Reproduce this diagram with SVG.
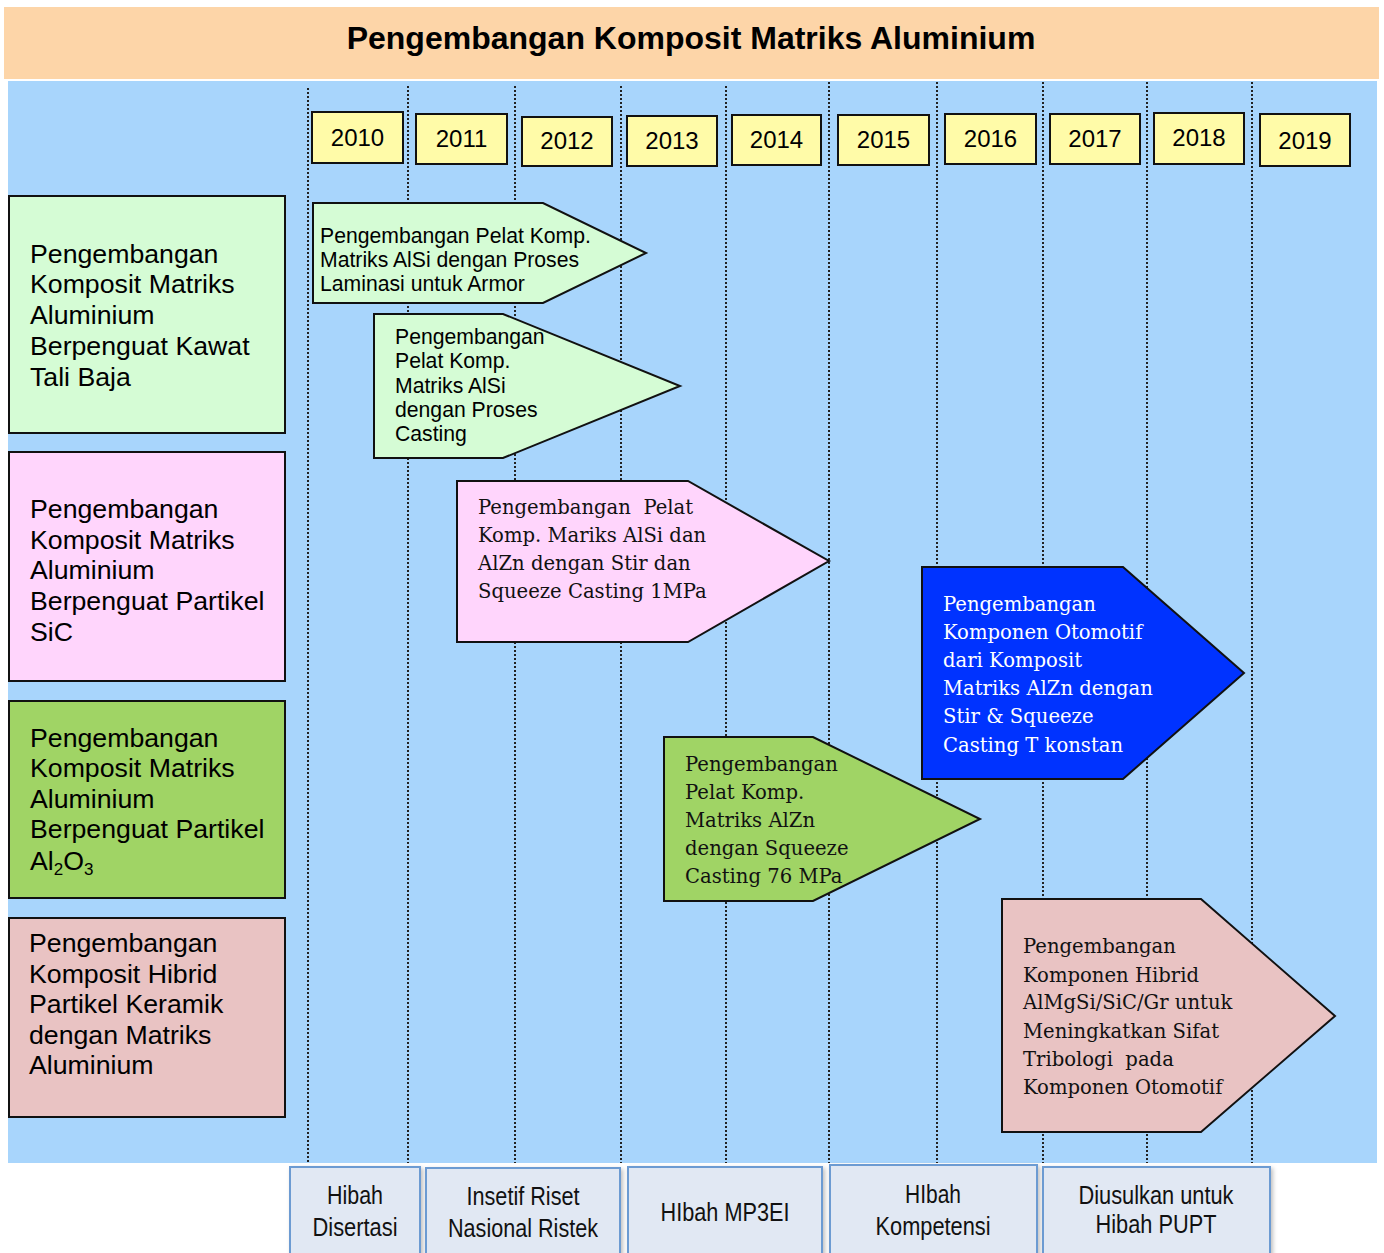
<svg xmlns="http://www.w3.org/2000/svg" width="1384" height="1253" viewBox="0 0 1384 1253">
<style>
.sans{font-family:"Liberation Sans",Arial,sans-serif;fill:#000}
.serif{font-family:"DejaVu Serif","Liberation Serif",serif;font-size:19.6px;fill:#111}
.cat{font-size:26.7px}
.act{font-size:21.2px}
.yr rect{fill:#FFFBA8;stroke:#111;stroke-width:2}
.yr text{font-family:"Liberation Sans",Arial,sans-serif;font-size:24px;text-anchor:middle;fill:#000}
.grid line{stroke:#222;stroke-width:2;stroke-dasharray:2 2}
.box{stroke:#111;stroke-width:2}
.fund rect{fill:#E1E8F3;stroke:#6C9BD2;stroke-width:2}
.fund text{font-family:"Liberation Sans Narrow","Liberation Sans",Arial,sans-serif;font-size:26px;text-anchor:middle;fill:#111}
</style>
<defs>
<filter id="sh" x="-10%" y="-10%" width="130%" height="130%"><feDropShadow dx="2" dy="2" stdDeviation="2" flood-color="#000" flood-opacity="0.25"/></filter>
</defs>
<rect width="1384" height="1253" fill="#fff"/>
<g id="title">
<rect x="4" y="7" width="1375" height="72" fill="#FDD5A8"/>
<text x="691" y="49" class="sans" font-size="32px" font-weight="bold" text-anchor="middle">Pengembangan Komposit Matriks Aluminium</text>
</g>
<rect id="panel" x="8" y="81" width="1369" height="1082" fill="#A8D5FC"/>
<g id="connectors" class="grid">
<line x1="308" y1="88" x2="308" y2="1163"/>
<line x1="408" y1="86" x2="408" y2="1163"/>
<line x1="515" y1="86" x2="515" y2="1163"/>
<line x1="621" y1="86" x2="621" y2="1163"/>
<line x1="726" y1="86" x2="726" y2="1163"/>
<line x1="829" y1="82" x2="829" y2="1163"/>
<line x1="937" y1="82" x2="937" y2="1163"/>
<line x1="1043" y1="82" x2="1043" y2="1163"/>
<line x1="1147" y1="82" x2="1147" y2="1163"/>
<line x1="1252" y1="82" x2="1252" y2="1163"/>
</g>
<g id="years" class="yr">
<g id="y2010"><rect x="312" y="112" width="91" height="51"/><text x="357.5" y="146">2010</text></g>
<g id="y2011"><rect x="416" y="114" width="91" height="50"/><text x="461.5" y="147">2011</text></g>
<g id="y2012"><rect x="522" y="117" width="90" height="49"/><text x="567" y="149">2012</text></g>
<g id="y2013"><rect x="627" y="116" width="90" height="50"/><text x="672" y="149">2013</text></g>
<g id="y2014"><rect x="732" y="115" width="89" height="50"/><text x="776.5" y="148">2014</text></g>
<g id="y2015"><rect x="838" y="115" width="91" height="50"/><text x="883.5" y="148">2015</text></g>
<g id="y2016"><rect x="945" y="114" width="91" height="50"/><text x="990.5" y="147">2016</text></g>
<g id="y2017"><rect x="1050" y="114" width="90" height="50"/><text x="1095" y="147">2017</text></g>
<g id="y2018"><rect x="1154" y="113" width="90" height="51"/><text x="1199" y="146">2018</text></g>
<g id="y2019"><rect x="1260" y="114" width="90" height="52"/><text x="1305" y="149">2019</text></g>
</g>
<g id="cat1">
<rect class="box" x="9" y="196" width="276" height="237" fill="#D5FCD5"/>
<text class="sans cat" x="30"><tspan x="30" y="263">Pengembangan</tspan><tspan x="30" y="293">Komposit Matriks</tspan><tspan x="30" y="324">Aluminium</tspan><tspan x="30" y="355">Berpenguat Kawat</tspan><tspan x="30" y="386">Tali Baja</tspan></text>
</g>
<g id="cat2">
<rect class="box" x="9" y="452" width="276" height="229" fill="#FFD5FC"/>
<text class="sans cat" x="30"><tspan x="30" y="518">Pengembangan</tspan><tspan x="30" y="549">Komposit Matriks</tspan><tspan x="30" y="579">Aluminium</tspan><tspan x="30" y="610">Berpenguat Partikel</tspan><tspan x="30" y="641">SiC</tspan></text>
</g>
<g id="cat3">
<rect class="box" x="9" y="701" width="276" height="197" fill="#A0D465"/>
<text class="sans cat" x="30"><tspan x="30" y="747">Pengembangan</tspan><tspan x="30" y="777">Komposit Matriks</tspan><tspan x="30" y="808">Aluminium</tspan><tspan x="30" y="838">Berpenguat Partikel</tspan><tspan x="30" y="870">Al</tspan><tspan font-size="17px" dy="5">2</tspan><tspan dy="-5">O</tspan><tspan font-size="17px" dy="5">3</tspan></text>
</g>
<g id="cat4">
<rect class="box" x="9" y="918" width="276" height="199" fill="#E9C3C3"/>
<text class="sans cat" x="29"><tspan x="29" y="952">Pengembangan</tspan><tspan x="29" y="983">Komposit Hibrid</tspan><tspan x="29" y="1013">Partikel Keramik</tspan><tspan x="29" y="1044">dengan Matriks</tspan><tspan x="29" y="1074">Aluminium</tspan></text>
</g>
<g id="act1">
<polygon class="box" points="313,203 543,203 646,253 543,303 313,303" fill="#D5FCD5"/>
<text class="sans act"><tspan x="320" y="243">Pengembangan Pelat Komp.</tspan><tspan x="320" y="267">Matriks AlSi dengan Proses</tspan><tspan x="320" y="291">Laminasi untuk Armor</tspan></text>
</g>
<g id="act2">
<polygon class="box" points="374,314 503,314 680,386 503,458 374,458" fill="#D5FCD5"/>
<text class="sans act"><tspan x="395" y="344">Pengembangan</tspan><tspan x="395" y="368">Pelat Komp.</tspan><tspan x="395" y="393">Matriks AlSi</tspan><tspan x="395" y="417">dengan Proses</tspan><tspan x="395" y="441">Casting</tspan></text>
</g>
<g id="act3">
<polygon class="box" points="457,481 688,481 829,561 688,642 457,642" fill="#FFD5FC"/>
<text class="serif"><tspan x="478" y="514" xml:space="preserve">Pengembangan  Pelat</tspan><tspan x="478" y="542">Komp. Mariks AlSi dan</tspan><tspan x="478" y="570">AlZn dengan Stir dan</tspan><tspan x="478" y="598">Squeeze Casting 1MPa</tspan></text>
</g>
<g id="act4">
<polygon class="box" points="922,567 1123,567 1244,673 1123,779 922,779" fill="#0033FF"/>
<text class="serif" style="fill:#fff"><tspan x="943" y="611">Pengembangan</tspan><tspan x="943" y="639">Komponen Otomotif</tspan><tspan x="943" y="667">dari Komposit</tspan><tspan x="943" y="695">Matriks AlZn dengan</tspan><tspan x="943" y="723">Stir &amp; Squeeze</tspan><tspan x="943" y="752">Casting T konstan</tspan></text>
</g>
<g id="act5">
<polygon class="box" points="664,737 813,737 980,819 813,901 664,901" fill="#A0D465"/>
<text class="serif"><tspan x="685" y="771">Pengembangan</tspan><tspan x="685" y="799">Pelat Komp.</tspan><tspan x="685" y="827">Matriks AlZn</tspan><tspan x="685" y="855">dengan Squeeze</tspan><tspan x="685" y="883">Casting 76 MPa</tspan></text>
</g>
<g id="act6">
<polygon class="box" points="1002,899 1201,899 1335,1016 1201,1132 1002,1132" fill="#E9C3C3"/>
<text class="serif"><tspan x="1023" y="953">Pengembangan</tspan><tspan x="1023" y="982">Komponen Hibrid</tspan><tspan x="1023" y="1009">AlMgSi/SiC/Gr untuk</tspan><tspan x="1023" y="1038">Meningkatkan Sifat</tspan><tspan x="1023" y="1066" xml:space="preserve">Tribologi  pada</tspan><tspan x="1023" y="1094">Komponen Otomotif</tspan></text>
</g>
<g id="funding" class="fund">
<g id="f1"><rect x="290" y="1167" width="130" height="90" filter="url(#sh)"/><text x="355" y="1204" textLength="56" lengthAdjust="spacingAndGlyphs">Hibah</text><text x="355" y="1236" textLength="85" lengthAdjust="spacingAndGlyphs">Disertasi</text></g>
<g id="f2"><rect x="426" y="1168" width="194" height="90" filter="url(#sh)"/><text x="523" y="1205" textLength="113" lengthAdjust="spacingAndGlyphs">Insetif Riset</text><text x="523" y="1237" textLength="150" lengthAdjust="spacingAndGlyphs">Nasional Ristek</text></g>
<g id="f3"><rect x="628" y="1167" width="194" height="90" filter="url(#sh)"/><text x="725" y="1221" textLength="129" lengthAdjust="spacingAndGlyphs">HIbah MP3EI</text></g>
<g id="f4"><rect x="830" y="1165" width="207" height="90" filter="url(#sh)"/><text x="933" y="1203" textLength="56" lengthAdjust="spacingAndGlyphs">HIbah</text><text x="933" y="1235" textLength="115" lengthAdjust="spacingAndGlyphs">Kompetensi</text></g>
<g id="f5"><rect x="1043" y="1167" width="227" height="90" filter="url(#sh)"/><text x="1156" y="1204" textLength="155" lengthAdjust="spacingAndGlyphs">Diusulkan untuk</text><text x="1156" y="1233" textLength="121" lengthAdjust="spacingAndGlyphs">Hibah PUPT</text></g>
</g>
</svg>
